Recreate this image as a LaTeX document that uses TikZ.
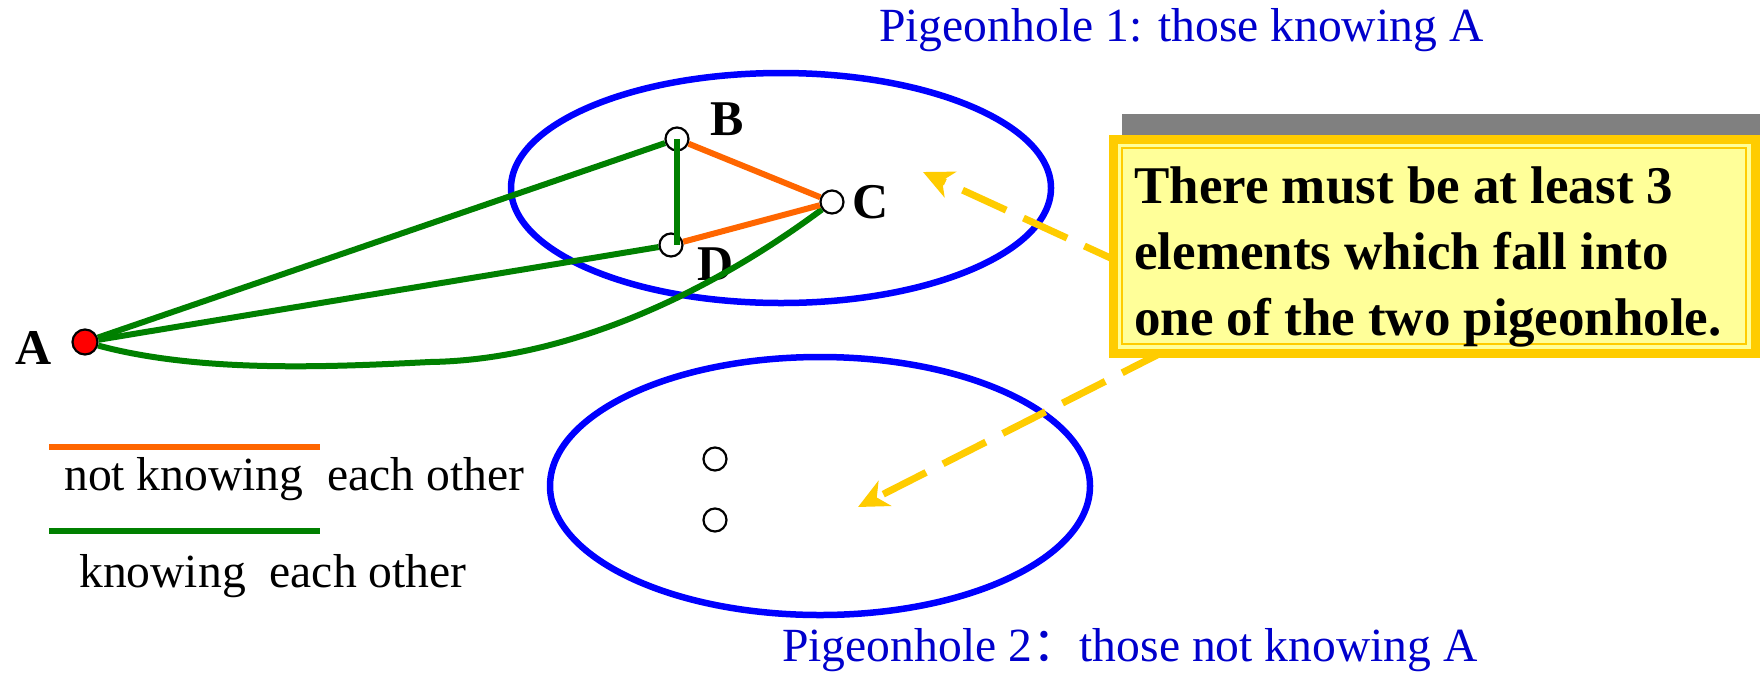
\documentclass[tikz,border=0pt]{standalone}
\usepackage{fontspec}
\setmainfont{Liberation Serif}
\newfontfamily\cjk{Noto Sans CJK SC}
\usetikzlibrary{arrows.meta}
\definecolor{myorange}{HTML}{FF6600}
\definecolor{mygreen}{HTML}{008000}
\definecolor{myblue}{HTML}{0000FF}
\definecolor{titleblue}{HTML}{0000CC}
\definecolor{gold}{HTML}{FFCC00}
\definecolor{paleyellow}{HTML}{FFFF99}
\begin{document}
\begin{tikzpicture}[x=1pt,y=-1pt,
  hole/.style={draw=myblue,line width=6.5pt},
  knows/.style={draw=mygreen,line width=6pt},
  notknows/.style={draw=myorange,line width=6pt},
  person/.style={circle,draw=black,fill=white,line width=2.2pt,minimum size=23pt,inner sep=0pt},
  redperson/.style={circle,draw=black,fill=red,line width=2.2pt,minimum size=25pt,inner sep=0pt},
  lab/.style={font=\fontsize{50}{60}\selectfont\bfseries,inner sep=0pt},
  txt/.style={font=\fontsize{47.6}{57}\selectfont,inner sep=0pt,anchor=west},
  boxtxt/.style={font=\fontsize{53}{66}\selectfont\bfseries,inner sep=0pt,anchor=base west},
  yarrow/.style={draw=gold,line width=7pt,dash pattern=on 48pt off 19pt,-{Stealth[length=30pt,width=28pt,inset=9pt,sep=0pt]}}
]
\useasboundingbox (0,0) rectangle (1760,678);
\fill[white] (0,0) rectangle (1760,678);

% pigeonholes
\draw[hole] (781,188) ellipse [x radius=270pt, y radius=115pt];
\draw[hole] (820,486) ellipse [x radius=270pt, y radius=129pt];

% titles
\node[txt,text=titleblue] (t1) at (879,30) {Pigeonhole 1: those knowing A};
\node[txt,text=titleblue] (t2) at (782,650) {Pigeonhole 2{\cjk ：}those not knowing A};

% people
\node[redperson] (A) at (85,342) {};
\node[person] (B) at (677,139) {};
\node[person] (C) at (832,202) {};
\node[person] (D) at (671,245) {};
\node[person] (E) at (715,459) {};
\node[person] (F) at (715,520) {};

\node[lab] (la) at (34,348) {A};
\node[lab] (lb) at (727,119) {B};
\node[lab] (lc) at (871,202) {C};
\node[lab] (ld) at (716,264) {D};

% edges
\draw[knows] (A) -- (B);
\draw[knows] (A) -- (D);
\coordinate (M) at (430,362);
\draw[knows] (A) .. controls (200,373) and (330,367) .. (M)
  .. controls (560,360) and (700,300) .. (C);
\draw[notknows] (B) -- (C);
\draw[notknows] (D) -- (C);
\draw[knows] (B.center) -- (B.center |- D.center);

% legend
\coordinate (o1) at (49,447); \coordinate (o2) at (320,447);
\coordinate (g1) at (49,531); \coordinate (g2) at (320,531);
\draw[notknows] (o1) -- (o2);
\draw[knows] (g1) -- (g2);
\node[txt] (n1) at (64,479) {not knowing~~each other};
\node[txt] (n2) at (79,576) {knowing~~each other};

% yellow arrows
\coordinate (s1) at (1128,266); \coordinate (e1) at (923,172);
\coordinate (s2) at (1165,351); \coordinate (e2) at (858,507);
\draw[yarrow] (s1) -- (e1);
\draw[yarrow] (s2) -- (e2);

% callout box
\fill[gray] (1122,114) rectangle (1760,135);
\draw[draw=gold,fill=paleyellow,line width=9pt] (1113,139) rectangle (1755,353);
\draw[draw=gold,line width=2pt] (1122,148) rectangle (1746,344);
\node[boxtxt] (l1) at (1134,203) {There must be at least 3};
\node[boxtxt] (l2) at (1134,269) {elements which fall into};
\node[boxtxt] (l3) at (1134,335) {one of the two pigeonhole.};
\end{tikzpicture}
\end{document}
